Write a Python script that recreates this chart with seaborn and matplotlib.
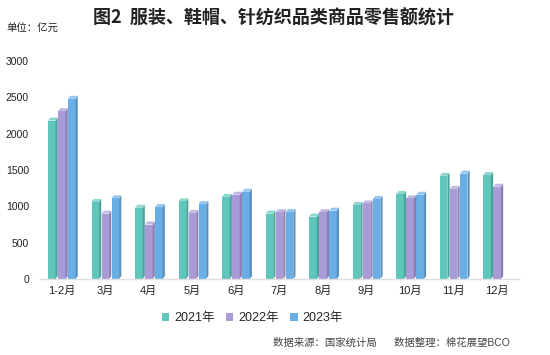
import matplotlib
matplotlib.use("Agg")
import matplotlib.pyplot as plt
import matplotlib.colors as mcolors
from matplotlib.patches import Polygon
import seaborn as sns
import pandas as pd

months = ["1-2月", "3月", "4月", "5月", "6月", "7月", "8月", "9月", "10月", "11月", "12月"]
sales_2021 = [2180, 1060, 980, 1070, 1130, 900, 860, 1020, 1170, 1420, 1430]
sales_2022 = [2310, 900, 750, 910, 1160, 920, 920, 1040, 1110, 1240, 1270]
sales_2023 = [2480, 1110, 990, 1030, 1200, 920, 940, 1100, 1160, 1450, None]
years = ["2021年", "2022年", "2023年"]
colors = ["#5ec6bb", "#a99ad8", "#6aaee6"]

rows = []
for y, vals in zip(years, [sales_2021, sales_2022, sales_2023]):
    for m, v in zip(months, vals):
        if v is not None:
            rows.append({"月份": m, "年份": y, "零售额": v})
df = pd.DataFrame(rows)

sns.set_theme(style="white")
plt.rcParams["font.family"] = ["Liberation Sans", "Noto Sans CJK SC", "DejaVu Sans"]

fig = plt.figure(figsize=(5.5, 3.55), dpi=100)
ax = fig.add_axes([40 / 550, 1 - 279 / 355, 479 / 550, 218 / 355])

sns.barplot(data=df, x="月份", y="零售额", hue="年份", order=months, hue_order=years,
            palette=colors, width=0.69, gap=0.25, ax=ax, saturation=1, errorbar=None,
            edgecolor="none")

ax.set_ylim(0, 3000)
ax.set_xlim(-0.5, 10.5)

# subtle 3D look: darker right side face and lighter top face, derived from each bar
dx = 2.2 / 43.5  # ~2px in category units
dy = 3000 * 3 / 218  # ~3px in value units
for p in list(ax.patches):
    h = p.get_height()
    if h is None or h <= 0:
        continue
    x0, w = p.get_x(), p.get_width()
    fc = mcolors.to_rgb(p.get_facecolor())
    dark = tuple(c * 0.82 for c in fc)
    light = tuple(c + (1 - c) * 0.3 for c in fc)
    side = Polygon([(x0 + w, 0), (x0 + w + dx, dy), (x0 + w + dx, h + dy), (x0 + w, h)],
                   closed=True, facecolor=dark, edgecolor="none", zorder=p.get_zorder())
    top = Polygon([(x0, h), (x0 + dx, h + dy), (x0 + w + dx, h + dy), (x0 + w, h)],
                  closed=True, facecolor=light, edgecolor="none", zorder=p.get_zorder())
    ax.add_patch(side)
    ax.add_patch(top)

ax.set_yticks(range(0, 3001, 500))
ax.set_xlabel("")
ax.set_ylabel("")
ax.tick_params(axis="y", labelsize=7.5, length=0, pad=8, colors="#222222")
ax.tick_params(axis="x", labelsize=8, length=0, pad=5, colors="#222222")
for s in ["top", "right", "left"]:
    ax.spines[s].set_visible(False)
ax.spines["bottom"].set_color("#e0e0e0")
ax.spines["bottom"].set_linewidth(1)

handles, labels = ax.get_legend_handles_labels()
leg = ax.legend(handles[:3], labels[:3], loc="upper center", bbox_to_anchor=(0.443, -0.1),
                ncol=3, frameon=False, fontsize=9, handlelength=0.6, handleheight=0.6,
                handletextpad=0.4, columnspacing=0.9)

fig.text(0.497, 1 - 18 / 355, "图2  服装、鞋帽、针纺织品类商品零售额统计", ha="center", va="center",
         fontsize=13, fontweight="bold", color="#222222",
         family=["Noto Sans CJK SC", "DejaVu Sans"])
fig.text(6 / 550, 1 - 29 / 355, "单位：亿元", ha="left", va="center", fontsize=7.5, color="#222222")
fig.text(510 / 550, 1 - 343 / 355, "数据来源：国家统计局      数据整理：棉花展望BCO", ha="right", va="center",
         fontsize=7.5, color="#444444")

fig.savefig("out.png", dpi=100)
